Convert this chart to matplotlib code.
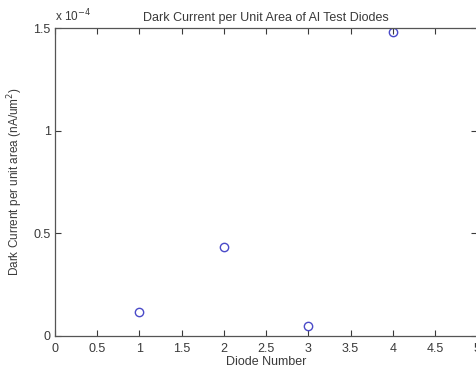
import numpy as np
import matplotlib.pyplot as plt
from matplotlib.ticker import FuncFormatter

plt.rcParams['font.family'] = ['Liberation Sans', 'DejaVu Sans']

diode = [1, 2, 3, 4]
# dark current per unit area, in units of 1e-4 nA/um^2
current = [0.115, 0.435, 0.05, 1.48]

grey = '#3a3a3a'
fig = plt.figure(figsize=(4.76, 3.70), dpi=100)
ax = fig.add_axes([0.1155, 0.092, 0.887, 0.832])

ax.plot(diode, current, 'o', mfc='none', mec='#4a4ac8', ms=6, mew=1.0)

ax.set_xlim(0, 5)
ax.set_ylim(0, 1.5)
ax.set_xticks(np.arange(0, 5.01, 0.5))
ax.set_yticks([0, 0.5, 1, 1.5])
fmt = FuncFormatter(lambda v, p: '%g' % v)
ax.xaxis.set_major_formatter(fmt)
ax.yaxis.set_major_formatter(fmt)
ax.tick_params(direction='in', length=4, width=0.8, top=True, right=True,
               labelsize=9, colors=grey, pad=3)
ax.tick_params(axis='x', pad=5)
for s in ax.spines.values():
    s.set_color('#555555')
    s.set_linewidth(0.9)

ax.set_title('Dark Current per Unit Area of Al Test Diodes', fontsize=9, color=grey, pad=5)
ax.set_xlabel('Diode Number', fontsize=9, color=grey, labelpad=1)
ax.set_ylabel('Dark Current per unit area (nA/um$^2$)', fontsize=8.5, color=grey, labelpad=6)
ax.text(0.0, 1.012, r'x 10$^{-4}$', transform=ax.transAxes, fontsize=8.5, color=grey,
        ha='left', va='bottom')

fig.savefig('out.png', dpi=100)
